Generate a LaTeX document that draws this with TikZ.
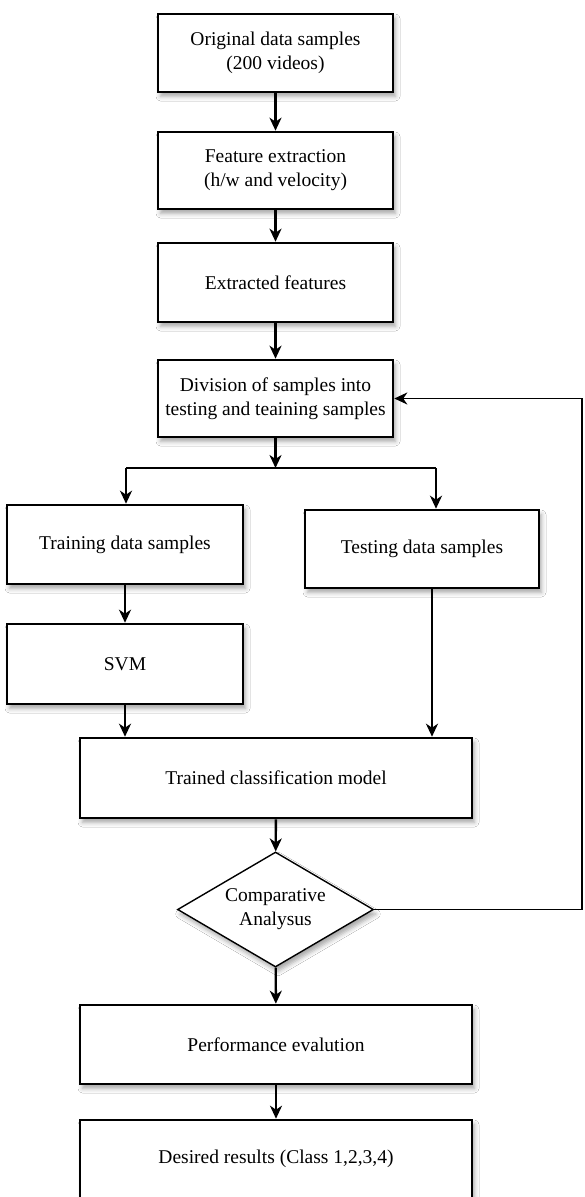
\documentclass[tikz,border=0pt]{standalone}
\usepackage{fontspec}
\setmainfont{Liberation Serif}
\usetikzlibrary{arrows.meta,shapes.geometric,shadows.blur}

\begin{document}
\begin{tikzpicture}[x=1pt,y=-1pt,
  font=\fontsize{19.5}{24}\selectfont,
  softshadow/.style={blur shadow={shadow xshift=2.5pt,shadow yshift=-4.5pt,
      shadow blur radius=4.5pt,shadow opacity=35}},
  stepbox/.style={draw=black,line width=2.6pt,fill=white,rectangle,
      inner sep=0pt,align=center,softshadow},
  decision/.style={draw=black,line width=1.4pt,fill=white,diamond,
      inner sep=0pt,align=center,minimum width=196pt,minimum height=115pt,
      shape aspect=1.7,softshadow},
  flow/.style={line width=2.4pt,-{Stealth[length=13pt,width=12pt,inset=4pt]}},
  plain/.style={line width=2.4pt},
  loopline/.style={line width=1.6pt,-{Stealth[length=13pt,width=12pt,inset=4pt]}}
]
\useasboundingbox (0,0) rectangle (584,1197);
\fill[white] (0,0) rectangle (584,1197);
\clip (0,0) rectangle (584,1197);

% main column
\node[stepbox,minimum width=235pt,minimum height=78pt] (orig) at (275.5,53)
  {Original data samples\\(200 videos)};
\node[stepbox,minimum width=235pt,minimum height=77pt] (fext) at (275.5,170.5)
  {Feature extraction\\(h/w and velocity)};
\node[stepbox,minimum width=235pt,minimum height=79pt] (feat) at (275.5,282.5)
  {Extracted features};
\node[stepbox,minimum width=235pt,minimum height=77pt] (divide) at (275.5,398.5)
  {Division of samples into\\testing and teaining samples};

% two branches
\node[stepbox,minimum width=236pt,minimum height=79pt] (train) at (125,544.5)
  {Training data samples};
\node[stepbox,minimum width=234pt,minimum height=78pt] (test) at (422,549)
  {Testing data samples};
\node[stepbox,minimum width=236pt,minimum height=80pt] (svm) at (125,664)
  {SVM};

% lower column
\node[stepbox,minimum width=392pt,minimum height=80pt] (model) at (276,778)
  {Trained classification model};
\node[decision] (compare) at (275.5,909.5) {Comparative\\Analysus};
\node[stepbox,minimum width=392pt,minimum height=79pt] (perf) at (276,1044.5)
  {Performance evalution};
\node[stepbox,minimum width=392pt,minimum height=78pt] (result) at (276,1159)
  {Desired results (Class 1,2,3,4)};

% split point and feedback corner
\coordinate (split) at (275.5,468);
\coordinate (splitL) at (126,468);
\coordinate (splitR) at (436,468);
\coordinate (back) at (582,398);

% connectors
\draw[flow] (orig) -- (fext);
\draw[flow] (fext) -- (feat);
\draw[flow] (feat) -- (divide);
\draw[flow] (divide) -- (split);
\draw[plain] (splitL) -- (splitR);
\draw[flow] (splitL) -- (splitL |- train.north);
\draw[flow] (splitR) -- (splitR |- test.north);
\draw[flow] (train) -- (svm);
\draw[flow] (svm.south) -- (svm.south |- model.north);
\draw[flow] ([xshift=10pt]test.south) -- ([xshift=10pt]test.south |- model.north);
\draw[flow] (model) -- (compare);
\draw[flow] (compare) -- (perf);
\draw[flow] (perf) -- (result);
\draw[loopline] (compare.east) -- (compare.east -| back) -- (back |- divide.east) -- (divide.east);
\end{tikzpicture}
\end{document}
